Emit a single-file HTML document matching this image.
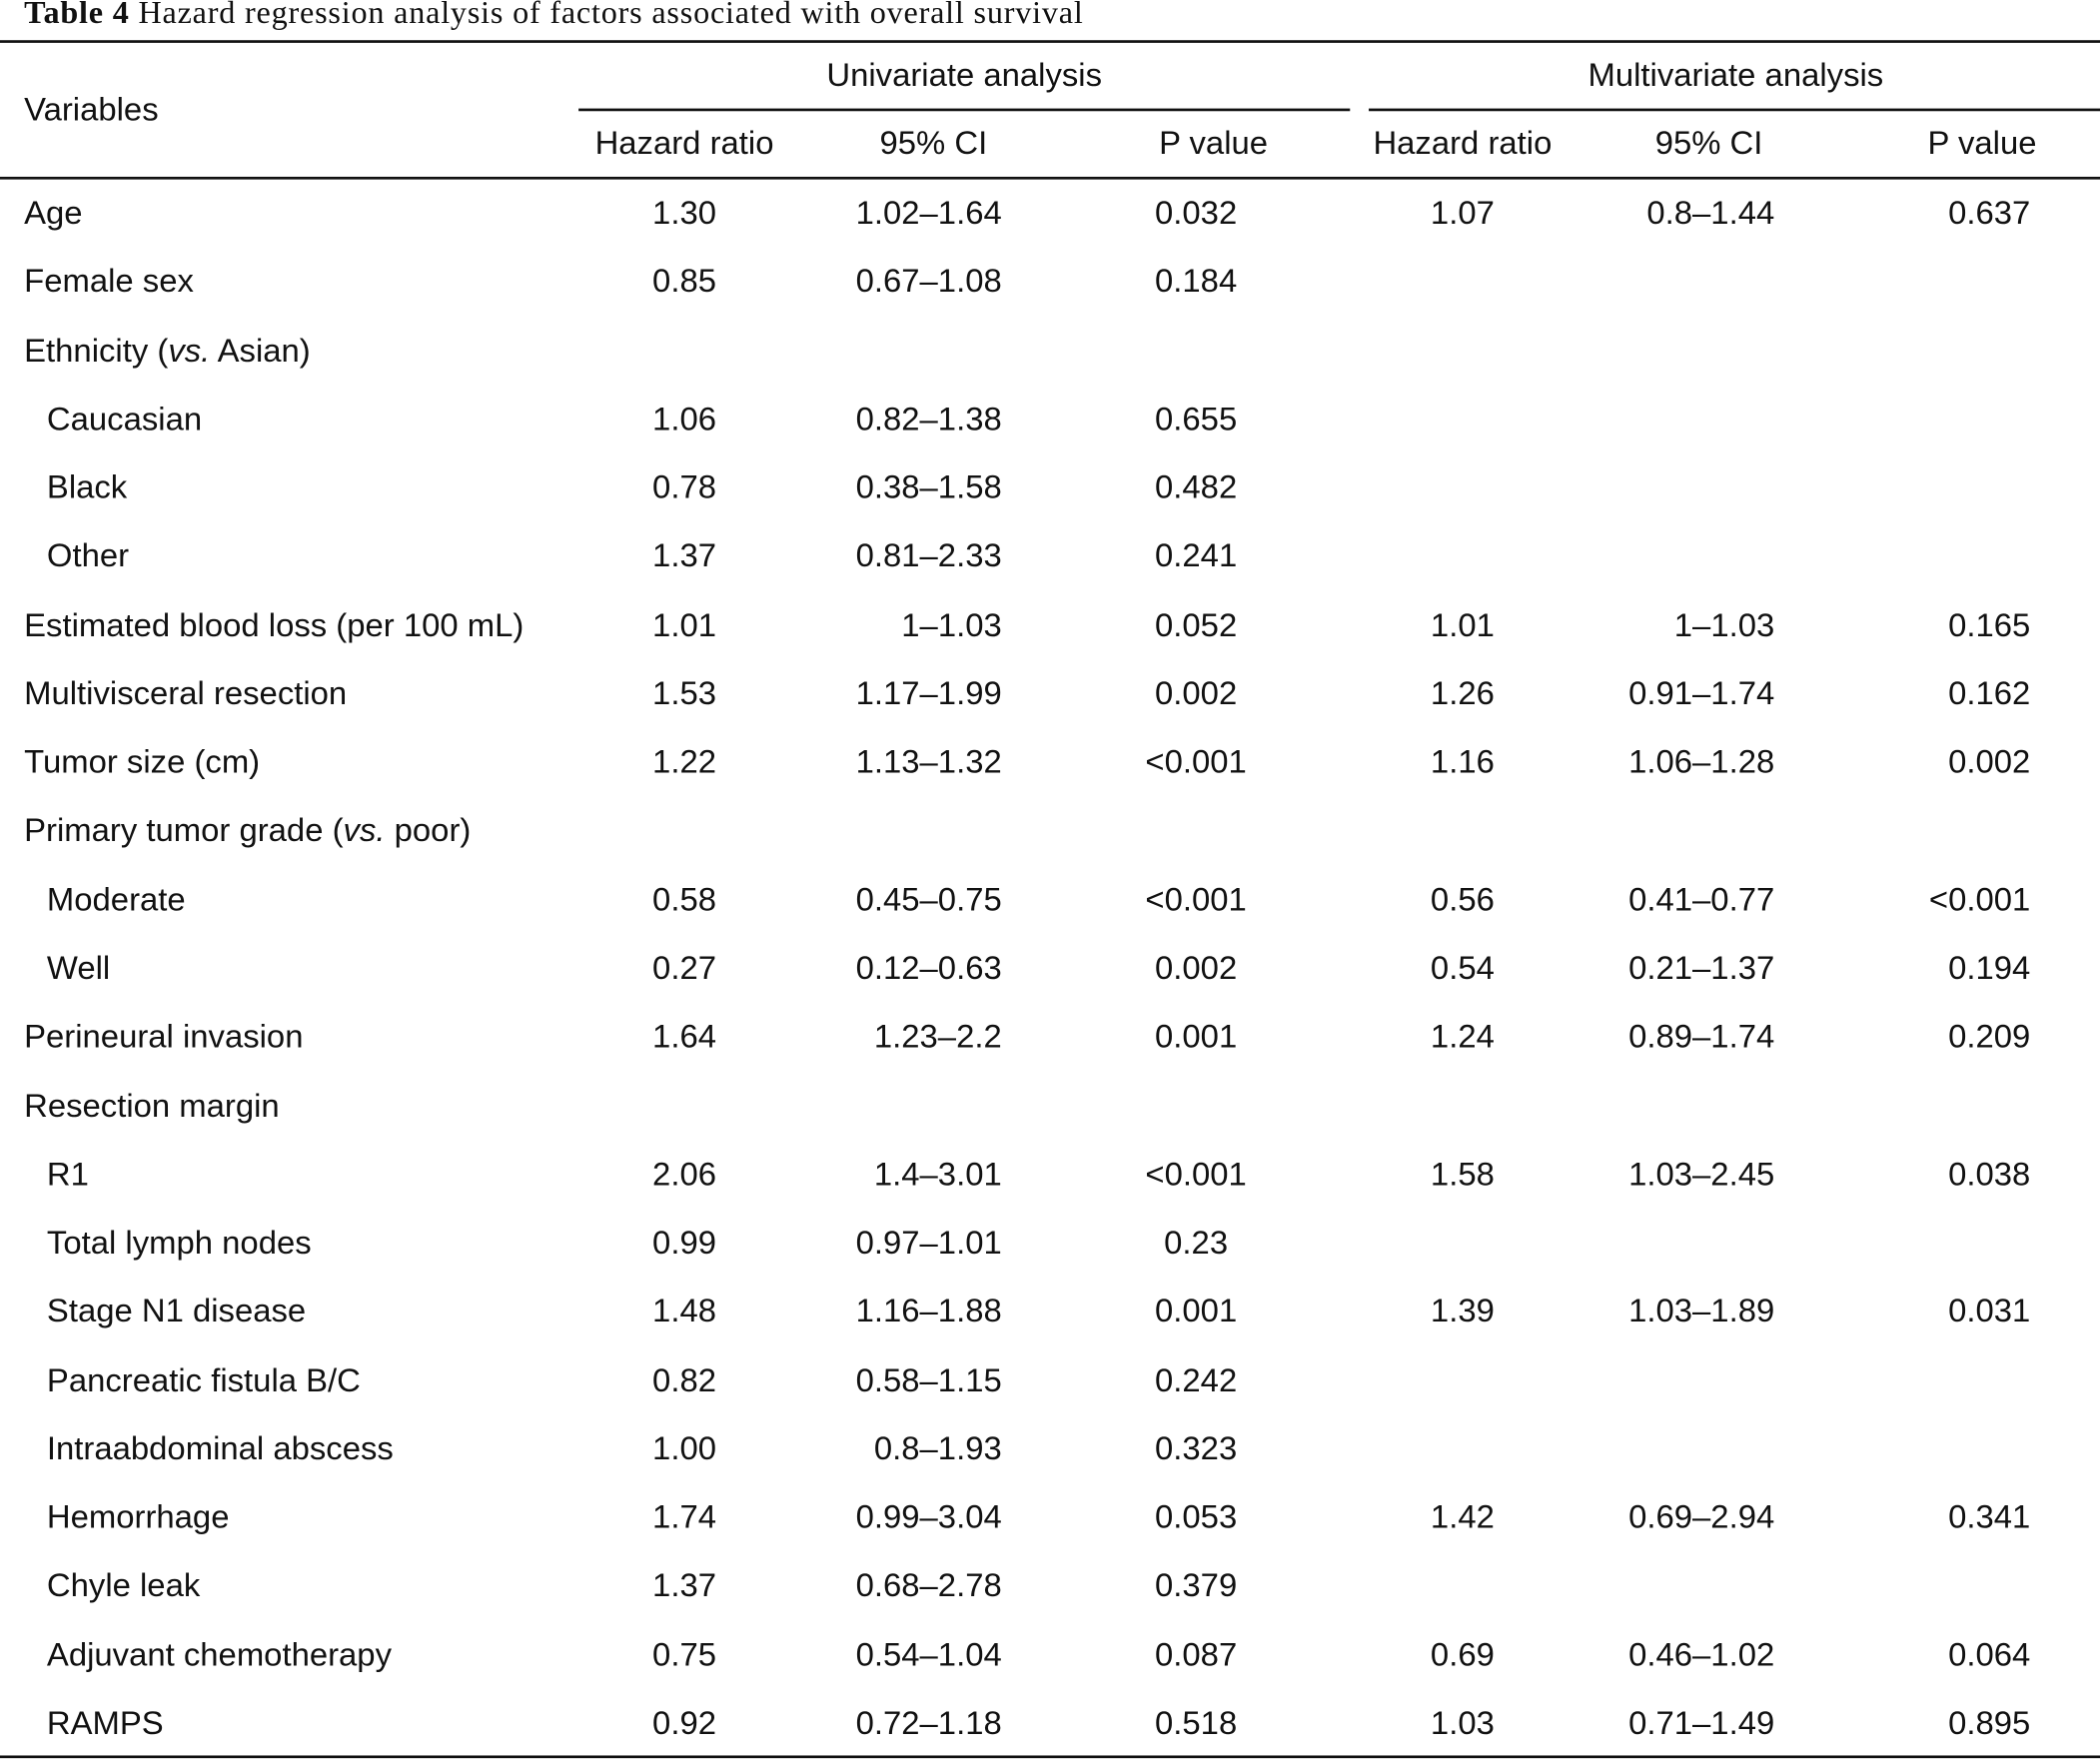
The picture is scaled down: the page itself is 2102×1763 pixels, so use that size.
<!DOCTYPE html>
<html><head><meta charset="utf-8">
<style>
html,body{margin:0;padding:0;background:#fff;}
body{width:2102px;height:1763px;overflow:hidden;position:relative;}
#wrap{position:absolute;left:0;top:0;width:1568px;height:1315px;transform:scale(1.34056);transform-origin:0 0;font-family:"Liberation Sans",sans-serif;color:#111;}
.t{position:absolute;font-size:24.5px;line-height:26px;white-space:nowrap;transform:translateY(-13px);}
.c{transform:translate(-50%,-13px);}
.r{transform:translate(-100%,-13px);}
.line{position:absolute;background:#111;}
#title{position:absolute;left:18px;top:-4px;font-family:"Liberation Serif",serif;font-size:24px;line-height:28px;white-space:nowrap;letter-spacing:0.6px;}
</style></head><body>
<div id="wrap">
<div id="title"><b>Table 4</b> Hazard regression analysis of factors associated with overall survival</div>
<div class="line" style="left:0;top:30px;width:1568px;height:2px"></div>
<div class="line" style="left:432px;top:81px;width:576px;height:2px"></div>
<div class="line" style="left:1022px;top:81px;width:546px;height:2px"></div>
<div class="line" style="left:0;top:132px;width:1568px;height:2px"></div>
<div class="line" style="left:0;top:1311px;width:1568px;height:2px"></div>
<div class="t" style="left:18px;top:83px">Variables</div>
<div class="t c" style="left:720px;top:57px">Univariate analysis</div>
<div class="t c" style="left:1296px;top:57px">Multivariate analysis</div>
<div class="t c" style="left:511px;top:108px">Hazard ratio</div>
<div class="t c" style="left:697px;top:108px">95% CI</div>
<div class="t c" style="left:906px;top:108px">P value</div>
<div class="t c" style="left:1092px;top:108px">Hazard ratio</div>
<div class="t c" style="left:1276px;top:108px">95% CI</div>
<div class="t c" style="left:1480px;top:108px">P value</div>
<div id="rows"></div>
</div>
<script>
const labels=["Age","Female sex","Ethnicity (<i>vs.</i> Asian)","Caucasian","Black","Other","Estimated blood loss (per 100 mL)","Multivisceral resection","Tumor size (cm)","Primary tumor grade (<i>vs.</i> poor)","Moderate","Well","Perineural invasion","Resection margin","R1","Total lymph nodes","Stage N1 disease","Pancreatic fistula B/C","Intraabdominal abscess","Hemorrhage","Chyle leak","Adjuvant chemotherapy","RAMPS"];
const indent=[0,0,0,1,1,1,0,0,0,0,1,1,0,0,1,1,1,1,1,1,1,1,1];
const uniHR=["1.30","0.85","","1.06","0.78","1.37","1.01","1.53","1.22","","0.58","0.27","1.64","","2.06","0.99","1.48","0.82","1.00","1.74","1.37","0.75","0.92"];
const uniCI=["1.02–1.64","0.67–1.08","","0.82–1.38","0.38–1.58","0.81–2.33","1–1.03","1.17–1.99","1.13–1.32","","0.45–0.75","0.12–0.63","1.23–2.2","","1.4–3.01","0.97–1.01","1.16–1.88","0.58–1.15","0.8–1.93","0.99–3.04","0.68–2.78","0.54–1.04","0.72–1.18"];
const uniP=["0.032","0.184","","0.655","0.482","0.241","0.052","0.002","<0.001","","<0.001","0.002","0.001","","<0.001","0.23","0.001","0.242","0.323","0.053","0.379","0.087","0.518"];
const multiHR=["1.07","","","","","","1.01","1.26","1.16","","0.56","0.54","1.24","","1.58","","1.39","","","1.42","","0.69","1.03"];
const multiCI=["0.8–1.44","","","","","","1–1.03","0.91–1.74","1.06–1.28","","0.41–0.77","0.21–1.37","0.89–1.74","","1.03–2.45","","1.03–1.89","","","0.69–2.94","","0.46–1.02","0.71–1.49"];
const multiP=["0.637","","","","","","0.165","0.162","0.002","","<0.001","0.194","0.209","","0.038","","0.031","","","0.341","","0.064","0.895"];
const rowsEl=document.getElementById('rows');
function cell(txt,x,y,cls,name){
  if(!txt)return;
  const d=document.createElement('div');
  d.className='t '+cls;
  d.style.left=x+'px';d.style.top=y+'px';
  d.innerHTML=txt.replace('<0','&lt;0');
  
  
  rowsEl.appendChild(d);
}
labels.forEach((lab,i)=>{
  const y=160+i*51.27;
  const d=document.createElement('div');
  d.className='t';
  d.style.left=(indent[i]?35:18)+'px';d.style.top=y+'px';
  d.innerHTML=lab;
  
  
  rowsEl.appendChild(d);
  cell(uniHR[i],511,y,'c','uni-hazard-ratio');
  cell(uniCI[i],748,y,'r','uni-ci');
  cell(uniP[i],893,y,'c','uni-p-value');
  cell(multiHR[i],1092,y,'c','multi-hazard-ratio');
  cell(multiCI[i],1325,y,'r','multi-ci');
  cell(multiP[i],1516,y,'r','multi-p-value');
});
</script>
</body></html>
